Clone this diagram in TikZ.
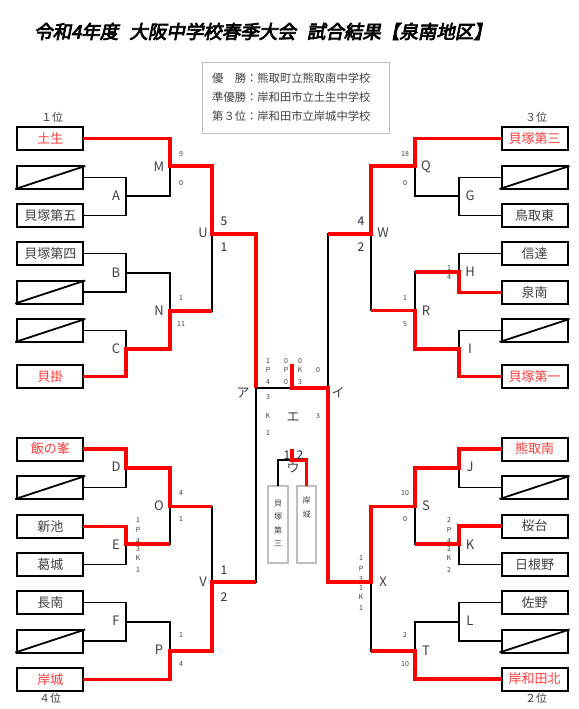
\documentclass[tikz,border=0pt]{standalone}
\usepackage{fontspec}
\setmainfont{Noto Sans CJK JP}
\newfontfamily\titlefont[FakeBold=4,FakeSlant=0.2]{Noto Sans CJK JP}
\usetikzlibrary{calc}
\definecolor{wred}{RGB}{255,0,0}
\definecolor{wtxt}{RGB}{255,60,60}
\definecolor{dtxt}{RGB}{64,64,64}
\definecolor{ntxt}{RGB}{40,40,60}
\definecolor{lgray}{RGB}{190,190,190}
\tikzset{
  team/.style={draw=black, line width=2pt, minimum width=66pt, minimum height=23pt,
    inner sep=0pt, outer sep=0pt, font=\fontsize{13}{13}\selectfont, text=dtxt},
  win/.style={team, text=wtxt},
  blk/.style={line width=1.8pt, black},
  rd/.style={line width=3.2pt, wred},
  slash/.style={line width=1.8pt, black},
  lab/.style={font=\fontsize{13}{13}\selectfont, text=dtxt, inner sep=0pt},
  sc/.style={font=\fontsize{7}{7}\selectfont, text=dtxt, inner sep=0pt},
  bsc/.style={font=\fontsize{12}{12}\selectfont, text=ntxt, inner sep=0pt},
  rank/.style={font=\fontsize{11}{11}\selectfont, text=dtxt, inner sep=0pt},
  leg/.style={font=\fontsize{11.3}{11.3}\selectfont, text=dtxt, inner sep=0pt, anchor=west},
  vbox/.style={draw=lgray, line width=1.5pt, minimum height=77pt, inner sep=0pt, outer sep=0pt},
  vtxt/.style={font=\fontsize{8}{13.5}\selectfont, text=dtxt, align=center, inner sep=0pt, anchor=north}
}
\begin{document}
\begin{tikzpicture}[x=1pt,y=-1pt]
\useasboundingbox (0,0) rectangle (578,709);
\fill[white] (0,0) rectangle (578,709);

% title
\node[font=\titlefont\fontsize{18.5}{18.5}\selectfont, inner sep=0pt] (title) at (263,31.5)
  {令和4年度\hspace{11pt}大阪中学校春季大会\hspace{11pt}試合結果【泉南地区】};

% legend
\node[draw=lgray, line width=1pt, minimum width=187pt, minimum height=71pt, anchor=north west, inner sep=0pt] (legend) at (202,62) {};
\node[leg] (leg1) at (212,78.3) {優　勝：熊取町立熊取南中学校};
\node[leg] (leg2) at (212,97.3) {準優勝：岸和田市立土生中学校};
\node[leg] (leg3) at (212,116) {第３位：岸和田市立岸城中学校};

% rank labels
\node[rank] (r1) at (52,117) {１位};
\node[rank] (r3) at (536,117) {３位};
\node[rank] (r4) at (50,698) {４位};
\node[rank] (r2) at (536,698) {２位};

% left teams
\node[win]  (L1)  at (50.25,138.5) {土生};
\node[team] (L2)  at (50.25,177.5) {};
\node[team] (L3)  at (50.25,215.5) {貝塚第五};
\node[team] (L4)  at (50.25,253.5) {貝塚第四};
\node[team] (L5)  at (50.25,292) {};
\node[team] (L6)  at (50.25,330.5) {};
\node[win]  (L7)  at (50.25,376.5) {貝掛};
\node[win]  (L8)  at (50.25,449) {飯の峯};
\node[team] (L9)  at (50.25,487.5) {};
\node[team] (L10) at (50.25,526.5) {新池};
\node[team] (L11) at (50.25,564.5) {葛城};
\node[team] (L12) at (50.25,602.5) {長南};
\node[team] (L13) at (50.25,641) {};
\node[win]  (L14) at (50.25,679.5) {岸城};

% right teams
\node[win]  (R1)  at (534.5,138.5) {貝塚第三};
\node[team] (R2)  at (534.5,177.5) {};
\node[team] (R3)  at (534.5,215.5) {鳥取東};
\node[team] (R4)  at (534.5,253.5) {信達};
\node[team] (R5)  at (534.5,292.5) {泉南};
\node[team] (R6)  at (534.5,330.5) {};
\node[win]  (R7)  at (534.5,376.5) {貝塚第一};
\node[win]  (R8)  at (534.5,449) {熊取南};
\node[team] (R9)  at (534.5,487.5) {};
\node[team] (R10) at (534.5,526) {桜台};
\node[team] (R11) at (534.5,564.5) {日根野};
\node[team] (R12) at (534.5,602.5) {佐野};
\node[team] (R13) at (534.5,641) {};
\node[win]  (R14) at (534.5,679) {岸和田北};

% slashes in empty boxes
\foreach \n in {L2,L5,L6,L9,L13,R2,R6,R9,R13}
  \draw[slash] ([xshift=-2pt]\n.south west) -- ([xshift=2pt]\n.north east);

% junctions
\coordinate (jA) at (126,196);   \coordinate (jB) at (126,273);
\coordinate (jC) at (126,349);   \coordinate (jD) at (126,468);
\coordinate (jE) at (126,544);   \coordinate (jF) at (126,622);
\coordinate (jM) at (170,166);   \coordinate (jN) at (170,311);
\coordinate (jO) at (170,506.5); \coordinate (jP) at (170,651);
\coordinate (jU) at (212,234);   \coordinate (jV) at (212,582);
\coordinate (ja) at (256,388);   \coordinate (ji) at (328,388);
\coordinate (jG) at (459,196);   \coordinate (jH) at (459,272);
\coordinate (jI) at (459,349);   \coordinate (jJ) at (459,468);
\coordinate (jK) at (459,544);   \coordinate (jL) at (459,622);
\coordinate (jQ) at (415,166);   \coordinate (jR) at (415,310.5);
\coordinate (jS) at (415,506.5); \coordinate (jT) at (415,651);
\coordinate (jW) at (371,234);   \coordinate (jX) at (371,582);
\coordinate (fc) at (292,388);   \coordinate (champ) at (292,364);
\coordinate (ju) at (292,460);   \coordinate (jut) at (292,449);

% third place boxes
\node[vbox, minimum width=20pt] (uL) at (278,524.5) {};
\node[vbox, minimum width=19pt] (uR) at (306.5,524.5) {};
\node[vtxt] (uLt) at (278,499.5) {貝\\塚\\第\\三};
\node[vtxt] (uRt) at (306.5,497) {岸\\城};

% black bracket
\draw[blk] (L1.east) -| (jM);
\draw[blk] (L2.east) -| (jA);  \draw[blk] (L3.east) -| (jA);  \draw[blk] (jA) -| (jM);
\draw[blk] (L4.east) -| (jB);  \draw[blk] (L5.east) -| (jB);
\draw[blk] (L6.east) -| (jC);  \draw[blk] (L7.east) -| (jC);
\draw[blk] (jB) -| (jN);  \draw[blk] (jC) -| (jN);
\draw[blk] (jM) -| (jU);  \draw[blk] (jN) -| (jU);
\draw[blk] (L8.east) -| (jD);  \draw[blk] (L9.east) -| (jD);
\draw[blk] (L10.east) -| (jE); \draw[blk] (L11.east) -| (jE);
\draw[blk] (jD) -| (jO);  \draw[blk] (jE) -| (jO);
\draw[blk] (L12.east) -| (jF); \draw[blk] (L13.east) -| (jF);
\draw[blk] (jF) -| (jP);  \draw[blk] (L14.east) -| (jP);
\draw[blk] (jO) -| (jV);  \draw[blk] (jP) -| (jV);
\draw[blk] (jU) -| (ja);  \draw[blk] (jV) -| (ja);
\draw[blk] (ja) -- (ji);
\draw[blk] (R1.west) -| (jQ);
\draw[blk] (R2.west) -| (jG);  \draw[blk] (R3.west) -| (jG);  \draw[blk] (jG) -| (jQ);
\draw[blk] (R4.west) -| (jH);  \draw[blk] (R5.west) -| (jH);
\draw[blk] (R6.west) -| (jI);  \draw[blk] (R7.west) -| (jI);
\draw[blk] (jH) -| (jR);  \draw[blk] (jI) -| (jR);
\draw[blk] (jQ) -| (jW);  \draw[blk] (jR) -| (jW);
\draw[blk] (R8.west) -| (jJ);  \draw[blk] (R9.west) -| (jJ);
\draw[blk] (R10.west) -| (jK); \draw[blk] (R11.west) -| (jK);
\draw[blk] (jJ) -| (jS);  \draw[blk] (jK) -| (jS);
\draw[blk] (R12.west) -| (jL); \draw[blk] (R13.west) -| (jL);
\draw[blk] (jL) -| (jT);  \draw[blk] (R14.west) -| (jT);
\draw[blk] (jS) -| (jX);  \draw[blk] (jT) -| (jX);
\draw[blk] (jW) -| (ji);  \draw[blk] (jX) -| (ji);
\draw[blk] (uL.north) |- (ju);

% red winner paths
\draw[rd] (L1.east) -| (jM) -| (jU) -| (ja);
\draw[rd] (L7.east) -| (jC) -| (jN) -- (jN -| jU);
\draw[rd] (L8.east) -| (jD) -| (jO) -- (jO -| jV);
\draw[rd] (L10.east) -| (jE) -- (jE -| jO);
\draw[rd] (L14.east) -| (jP) -| (jV) -- (jV -| ja);
\draw[rd] (R1.west) -| (jQ) -| (jW) -- (jW -| ji);
\draw[rd] (R5.west) -| (jH) -- (jH -| jR);
\draw[rd] (R7.west) -| (jI) -| (jR) -- (jR -| jW);
\draw[rd] (R8.west) -| (jJ) -| (jS) -| (jX) -| (ji) -- (fc) -- (champ);
\draw[rd] (R10.west) -| (jK) -- (jK -| jS);
\draw[rd] (R14.west) -| (jT) -- (jT -| jX);
\draw[rd] (uR.north) |- (ju) -- (jut);

% match labels
\node[lab] (tA) at (116,196) {A}; \node[lab] (tB) at (116,273) {B};
\node[lab] (tC) at (116,349) {C}; \node[lab] (tD) at (116,467) {D};
\node[lab] (tE) at (116,545) {E}; \node[lab] (tF) at (116,621) {F};
\node[lab] (tM) at (159,167) {M}; \node[lab] (tN) at (159,311) {N};
\node[lab] (tO) at (159,506) {O}; \node[lab] (tP) at (159,650) {P};
\node[lab] (tU) at (203,233) {U}; \node[lab] (tV) at (203,582) {V};
\node[lab] (tG) at (470,196) {G}; \node[lab] (tH) at (470,272) {H};
\node[lab] (tI) at (470,349) {I}; \node[lab] (tJ) at (470,467) {J};
\node[lab] (tK) at (470,545) {K}; \node[lab] (tL) at (470,621) {L};
\node[lab] (tQ) at (426,167) {Q}; \node[lab] (tR) at (426,311) {R};
\node[lab] (tS) at (426,506) {S}; \node[lab] (tT) at (426,651) {T};
\node[lab] (tW) at (383,233) {W}; \node[lab] (tX) at (383,582) {X};
\node[lab] (ta) at (243,393) {ア}; \node[lab] (ti) at (338,393) {イ};
\node[lab] (te) at (293,417) {エ}; \node[lab] (tu) at (293,468) {ウ};

% small scores
\node[sc] (s1) at (181,154) {9};   \node[sc] (s2) at (181,183) {0};
\node[sc] (s3) at (181,298) {1};   \node[sc] (s4) at (181,324) {11};
\node[sc] (s5) at (181,493) {4};   \node[sc] (s6) at (181,519) {1};
\node[sc] (s7) at (181,635) {1};   \node[sc] (s8) at (181,664) {4};
\node[sc] (s9) at (405,154) {18};  \node[sc] (s10) at (405,183) {0};
\node[sc] (s11) at (405,298) {1};  \node[sc] (s12) at (405,324) {5};
\node[sc] (s13) at (405,493) {10}; \node[sc] (s14) at (405,519) {0};
\node[sc] (s15) at (405,635) {2};  \node[sc] (s16) at (405,664) {10};
\node[sc] (s17) at (449,268) {1};  \node[sc] (s18) at (449,277) {4};
% E column
\node[sc] (e1) at (138,520) {1}; \node[sc] (e2) at (138,530) {P};
\node[sc] (e3) at (138,540.5) {4}; \node[sc] (e4) at (138,548.5) {3};
\node[sc] (e5) at (138,557.5) {K}; \node[sc] (e6) at (138,570) {1};
% K column
\node[sc] (k1) at (449,520) {2}; \node[sc] (k2) at (449,530) {P};
\node[sc] (k3) at (449,540.5) {4}; \node[sc] (k4) at (449,548.5) {2};
\node[sc] (k5) at (449,557.5) {K}; \node[sc] (k6) at (449,570) {2};
% X column
\node[sc] (x1) at (361,558) {1}; \node[sc] (x2) at (361,569) {P};
\node[sc] (x3) at (361,579) {3}; \node[sc] (x4) at (361,588) {1};
\node[sc] (x5) at (361,597) {K}; \node[sc] (x6) at (361,608) {1};
% final
\node[sc] (f1) at (268,361) {1}; \node[sc] (f2) at (268,369.5) {P}; \node[sc] (f3) at (268,382) {4};
\node[sc] (f4) at (286,361) {0}; \node[sc] (f5) at (286,369.5) {P}; \node[sc] (f6) at (286,382) {0};
\node[sc] (f7) at (300,361) {0}; \node[sc] (f8) at (300,369.5) {K}; \node[sc] (f9) at (300,382) {3};
\node[sc] (f10) at (318,369.5) {0};
\node[sc] (g1) at (268,397) {3}; \node[sc] (g2) at (268,416) {K}; \node[sc] (g3) at (268,433) {1};
\node[sc] (g4) at (318,416) {3};

% bigger scores
\node[bsc] (b1) at (224,221) {5}; \node[bsc] (b2) at (224,247) {1};
\node[bsc] (b3) at (361,221) {4}; \node[bsc] (b4) at (361,247) {2};
\node[bsc] (b5) at (224,570) {1}; \node[bsc] (b6) at (224,597) {2};
\node[bsc] (b7) at (287,455) {1}; \node[bsc] (b8) at (300,455) {2};
\end{tikzpicture}
\end{document}
